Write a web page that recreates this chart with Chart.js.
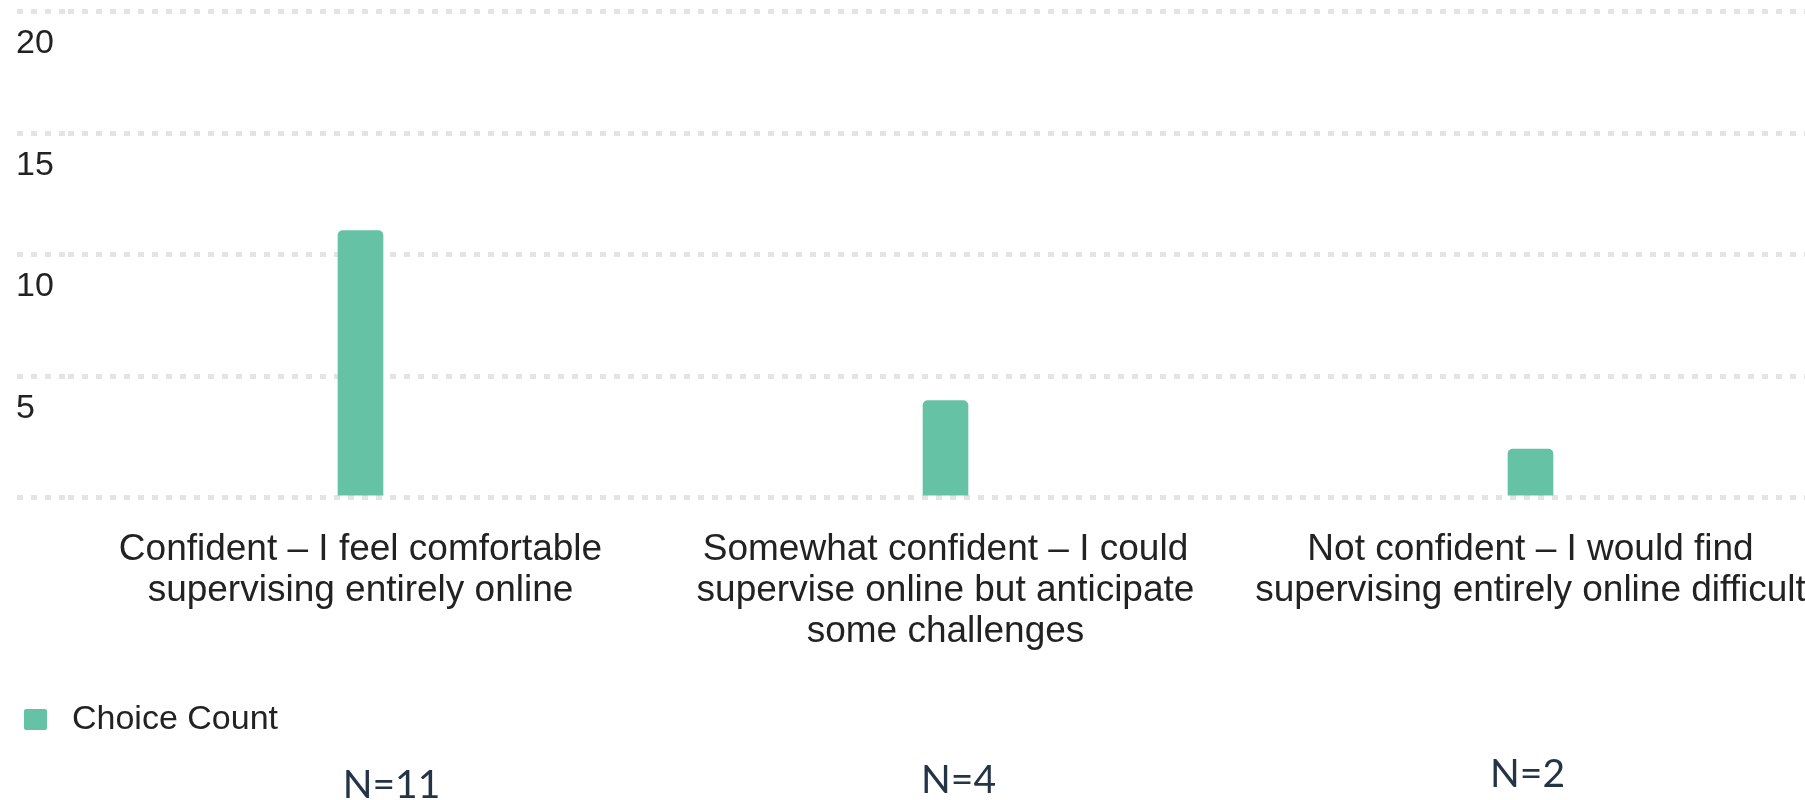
<!DOCTYPE html>
<html>
<head>
<meta charset="utf-8">
<script src="https://cdn.jsdelivr.net/npm/chart.js@4/dist/chart.umd.min.js"></script>
<style>
  html, body { margin: 0; padding: 0; background: #fff; overflow: hidden; }
  #wrap { position: relative; width: 1823px; height: 800px; }
</style>
</head>
<body>
<div id="wrap"><canvas id="barChart"></canvas></div>
<script>
const categories = [
  ['Confident \u2013 I feel comfortable', 'supervising entirely online'],
  ['Somewhat confident \u2013 I could', 'supervise online but anticipate', 'some challenges'],
  ['Not confident \u2013 I would find', 'supervising entirely online difficult']
];
const choiceCount = [11, 4, 2];
const nLabels = ['N=11', 'N=4', 'N=2'];
const yTicks = [0, 5, 10, 15, 20];

const barColor = '#66c2a5';
const textColor = '#222222';
const gridColor = '#e4e4e4';

// writes the N= notes under each category, placed from the x scale
const nLabelPlugin = {
  id: 'nLabels',
  afterDraw(chart) {
    const ctx = chart.ctx;
    const x = chart.scales.x;
    const shifts = [31, 13, -3];
    const rows = [785, 780, 774];
    ctx.save();
    ctx.font = '39px Lato';
    ctx.fillStyle = '#243447';
    ctx.textAlign = 'center';
    ctx.textBaseline = 'middle';
    nLabels.forEach((t, i) => {
      ctx.fillText(t, x.getPixelForValue(i) + shifts[i], rows[i]);
    });
    ctx.restore();
  }
};

const ctx = document.getElementById('barChart').getContext('2d');
new Chart(ctx, {
  type: 'bar',
  data: {
    labels: categories,
    datasets: [{
      label: 'Choice Count',
      data: choiceCount,
      backgroundColor: barColor,
      borderRadius: { topLeft: 5, topRight: 5 },
      borderSkipped: 'start',
      barThickness: 45
    }]
  },
  options: {
    responsive: true,
    maintainAspectRatio: false,
    animation: false,
    layout: { padding: { left: 16, right: 0, top: 1, bottom: 52 } },
    scales: {
      x: {
        // hidden tick marks only keep the gap under the plot
        grid: { display: false, drawTicks: true, tickLength: 28 },
        border: { display: false },
        // empty title = spacer between labels and legend
        title: { display: true, text: '', font: { size: 10, lineHeight: 1 }, padding: { top: 0, bottom: 18 } },
        ticks: {
          color: textColor,
          padding: 3,
          maxRotation: 0,
          autoSkip: false,
          font: { family: 'Liberation Sans, Arial', size: 37, lineHeight: 1.12 }
        }
      },
      y: {
        min: 0,
        max: 20,
        afterFit: s => { s.width = 52; },
        afterBuildTicks: s => { s.ticks = yTicks.map(v => ({ value: v })); },
        border: { display: false, dash: [6, 8] },
        grid: {
          color: gridColor,
          lineWidth: 5,
          tickLength: 51,
          tickColor: gridColor,
          tickWidth: 5,
          tickBorderDash: [6, 8]
        },
        ticks: {
          color: textColor,
          crossAlign: 'far',
          labelOffset: 32,
          padding: 0,
          font: { family: 'Liberation Sans, Arial', size: 34, lineHeight: 0.7 },
          callback: v => (v === 0 ? '' : v)
        }
      }
    },
    plugins: {
      legend: {
        position: 'bottom',
        align: 'start',
        title: { display: true, text: '', font: { size: 10, lineHeight: 1 }, padding: { top: 0, bottom: 7 } },
        labels: {
          color: textColor,
          boxWidth: 39,
          boxHeight: 37,
          useBorderRadius: true,
          borderRadius: 10,
          padding: 0,
          font: { family: 'Liberation Sans, Arial', size: 34 },
          // white rim trims the swatch so the text sits further from it
          generateLabels: chart => Chart.defaults.plugins.legend.labels.generateLabels(chart)
            .map(l => Object.assign(l, { strokeStyle: '#ffffff', lineWidth: 16 }))
        }
      },
      tooltip: { enabled: false }
    }
  },
  plugins: [nLabelPlugin]
});
</script>
</body>
</html>
